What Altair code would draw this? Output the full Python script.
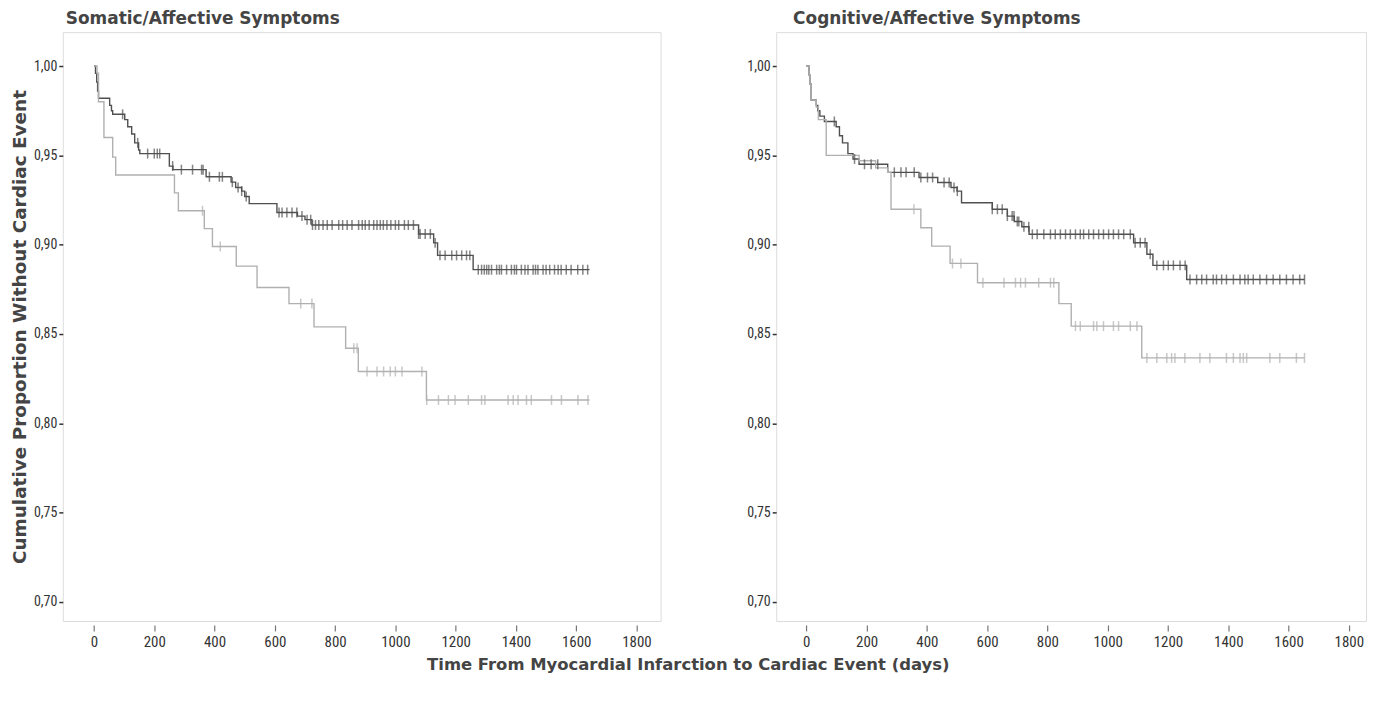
import altair as alt
import pandas as pd

# ---------------- data ----------------
# Somatic/Affective Symptoms panel
som_dark_t = [0, 5, 9, 12, 15, 52, 58, 62, 102, 112, 125, 135, 148, 152, 250, 262, 372, 455, 470, 490, 500, 515,
              607, 675, 700, 723, 1077, 1127, 1140, 1258, 1644]
som_dark_s = [1.0, 0.996, 0.991, 0.986, 0.982, 0.978, 0.975, 0.973, 0.970, 0.966, 0.962, 0.957, 0.953, 0.951,
              0.944, 0.942, 0.938, 0.935, 0.932, 0.930, 0.927, 0.923, 0.918, 0.916, 0.914, 0.911, 0.906, 0.901,
              0.894, 0.886, 0.886]
som_light_t = [0, 10, 15, 33, 62, 72, 267, 280, 366, 393, 472, 541, 647, 730, 835, 877, 1103, 1644]
som_light_s = [1.0, 0.996, 0.980, 0.960, 0.949, 0.939, 0.929, 0.919, 0.909, 0.899, 0.888, 0.876, 0.867, 0.854,
               0.842, 0.829, 0.813, 0.813]
som_dark_cens = [95, 145, 178, 200, 210, 218, 261, 290, 327, 357, 362, 383, 416, 426, 459, 478, 490, 505, 614, 624,
                 640, 657, 673, 690, 707, 719, 725, 735, 746, 760, 774, 790, 812, 825, 840, 856, 878, 890, 900, 913,
                 928, 939, 950, 960, 972, 985, 1000, 1011, 1030, 1043, 1060, 1077, 1082, 1099, 1116, 1132, 1148,
                 1165, 1187, 1203, 1220, 1236, 1247, 1275, 1286, 1295, 1303, 1310, 1319, 1336, 1345, 1352, 1369,
                 1385, 1395, 1402, 1418, 1430, 1440, 1457, 1465, 1473, 1490, 1500, 1512, 1528, 1540, 1550, 1567,
                 1583, 1605, 1622, 1638]
som_light_cens = [360, 419, 686, 723, 862, 873, 906, 939, 961, 983, 1000, 1022, 1088, 1104, 1143, 1176, 1198, 1242,
                  1286, 1297, 1374, 1391, 1407, 1435, 1451, 1518, 1551, 1606, 1639]

# Cognitive/Affective Symptoms panel
cog_dark_t = [0, 9, 12, 16, 33, 38, 45, 60, 99, 110, 120, 138, 155, 175, 270, 374, 436, 480, 500, 515, 617, 667,
              690, 715, 739, 1086, 1130, 1150, 1262, 1653]
cog_dark_s = [1.0, 0.995, 0.990, 0.981, 0.978, 0.975, 0.972, 0.969, 0.966, 0.961, 0.957, 0.951, 0.948, 0.945,
              0.9405, 0.9376, 0.9348, 0.932, 0.930, 0.9235, 0.9198, 0.916, 0.913, 0.910, 0.9058, 0.9011, 0.8946,
              0.8884, 0.8805, 0.8805]
cog_light_t = [0, 9, 12, 16, 33, 40, 66, 175, 230, 270, 281, 380, 416, 477, 568, 838, 879, 1113, 1653]
cog_light_s = [1.0, 0.995, 0.990, 0.981, 0.977, 0.970, 0.950, 0.947, 0.943, 0.9405, 0.9198, 0.9095, 0.8992, 0.8895,
               0.8787, 0.867, 0.8544, 0.8366, 0.8366]
cog_dark_cens = [93, 160, 193, 215, 237, 292, 314, 331, 358, 380, 402, 419, 457, 474, 490, 501, 617, 634, 650, 667,
                 683, 689, 700, 705, 722, 738, 750, 766, 788, 810, 826, 843, 860, 876, 893, 909, 920, 937, 953, 970,
                 986, 1003, 1019, 1036, 1053, 1075, 1091, 1108, 1124, 1141, 1163, 1185, 1201, 1218, 1240, 1257,
                 1273, 1295, 1312, 1328, 1350, 1361, 1378, 1394, 1417, 1439, 1455, 1466, 1483, 1505, 1527, 1549,
                 1571, 1593, 1615, 1637, 1653]
cog_light_cens = [357, 485, 513, 586, 656, 694, 711, 727, 771, 810, 821, 893, 909, 953, 964, 986, 1019, 1036, 1075,
                  1097, 1130, 1163, 1196, 1212, 1223, 1256, 1306, 1339, 1394, 1417, 1439, 1450, 1461, 1538, 1571,
                  1626, 1653]

x_ticks = [0, 200, 400, 600, 800, 1000, 1200, 1400, 1600, 1800]
y_ticks = [0.70, 0.75, 0.80, 0.85, 0.90, 0.95, 1.00]

DARK = "#505050"
LIGHT = "#b0b0b0"
NARROW = "'Liberation Sans Narrow', 'Arial Narrow', 'Roboto Condensed', sans-serif"
BOLD = "DejaVu Sans"


def step_value(ts, ss, t):
    v = ss[0]
    for ti, si in zip(ts, ss):
        if ti <= t:
            v = si
    return v


def panel(title, dark_t, dark_s, light_t, light_s, dark_c, light_c, width, xdom, show_ytitle, title_dx):
    lines = pd.DataFrame(
        [{"t": t, "s": s, "g": "dark"} for t, s in zip(dark_t, dark_s)]
        + [{"t": t, "s": s, "g": "light"} for t, s in zip(light_t, light_s)]
    )
    cens = pd.DataFrame(
        [{"t": t, "s": step_value(dark_t, dark_s, t), "g": "dark"} for t in dark_c]
        + [{"t": t, "s": step_value(light_t, light_s, t), "g": "light"} for t in light_c]
    )
    xs = alt.Scale(domain=xdom, nice=False, zero=False)
    ys = alt.Scale(domain=[0.6893, 1.019], nice=False, zero=False)
    col = alt.Color("g:N", scale=alt.Scale(domain=["dark", "light"], range=[DARK, LIGHT]), legend=None)
    xaxis = alt.Axis(values=x_ticks, title=None, grid=False, domain=False, offset=4, tickSize=6,
                     tickColor="#777", tickWidth=1.2, labelFont=NARROW, labelFontSize=15, labelColor="#333",
                     labelPadding=4, format="d")
    yaxis = alt.Axis(values=y_ticks, grid=False, domain=False, tickSize=4, tickColor="#333", tickWidth=1.5,
                     labelFont=NARROW, labelFontSize=14, labelColor="#333", labelPadding=2,
                     labelExpr="replace(format(datum.value, '.2f'), '.', ',')",
                     title="Cumulative Proportion Without Cardiac Event" if show_ytitle else None,
                     titleFont=BOLD, titleFontSize=18.5, titleFontWeight="bold", titleColor="#444",
                     titlePadding=4)
    base = alt.Chart(lines)
    ln = base.mark_line(interpolate="step-after", strokeWidth=1.4).encode(
        x=alt.X("t:Q", scale=xs, axis=xaxis),
        y=alt.Y("s:Q", scale=ys, axis=yaxis),
        color=col,
        detail="g:N",
        order=alt.Order("t:Q"),
    )
    tk = alt.Chart(cens).mark_tick(orient="vertical", size=10, thickness=1.5).encode(
        x=alt.X("t:Q", scale=xs),
        y=alt.Y("s:Q", scale=ys),
        color=col,
    )
    return alt.layer(ln, tk).properties(
        width=width, height=591,
        title=alt.TitleParams(title, anchor="start", frame="group", dx=title_dx, offset=4,
                              font=BOLD, fontSize=17, fontWeight="bold", color="#444"),
    )


left = panel("Somatic/Affective Symptoms", som_dark_t, som_dark_s, som_light_t, som_light_s,
             som_dark_cens, som_light_cens, 600, [-103.5, 1880], True, 3)
right = panel("Cognitive/Affective Symptoms", cog_dark_t, cog_dark_s, cog_light_t, cog_light_s,
              cog_dark_cens, cog_light_cens, 592, [-100, 1857], False, 17)

chart = alt.hconcat(left, right, spacing=85).properties(
    title=alt.TitleParams("Time From Myocardial Infarction to Cardiac Event (days)", orient="bottom",
                          anchor="middle", offset=7, font=BOLD, fontSize=16.5, fontWeight="bold",
                          color="#444"),
    padding={"left": 2, "top": 0, "right": 0, "bottom": 0},
).configure_view(stroke="#cfcfcf", strokeWidth=1.5).configure(background="white")

chart.save("out.html", embed_options={"renderer": "svg", "actions": False})
